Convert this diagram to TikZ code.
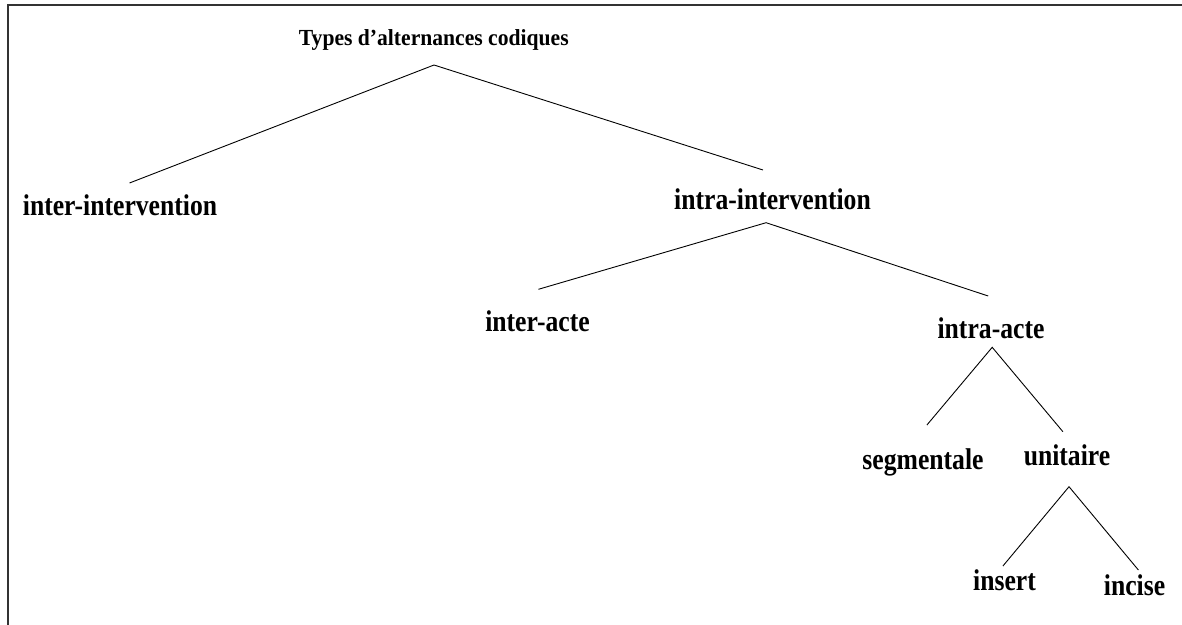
\documentclass[tikz,border=0pt]{standalone}
\usepackage{fontspec}
\newfontfamily\labfont{Liberation Serif}[FakeStretch=0.855]
\newfontfamily\titfont{Liberation Serif}[FakeStretch=0.94]
\begin{document}
\begin{tikzpicture}[x=1pt,y=-1pt,
  lab/.style={font=\labfont\bfseries\fontsize{30}{33}\selectfont, anchor=base, inner sep=0pt},
  tit/.style={font=\titfont\bfseries\fontsize{23}{26}\selectfont, anchor=base, inner sep=0pt},
  branch/.style={draw=black, line width=0.9pt},
  frame/.style={draw=black!80, line width=2pt}]
\useasboundingbox (0,0) rectangle (1182,624);
% frame (only left and top edges visible)
\coordinate (fbl) at (8,625);
\coordinate (ftl) at (8,5);
\coordinate (ftr) at (1183,5);
\draw[frame] (fbl) -- (ftl) -- (ftr);
% labels
\node[tit] (title) at (433.8,45) {Types d’alternances codiques};
\node[lab] (interI) at (120,215.7) {inter-intervention};
\node[lab] (intraI) at (772.5,209) {intra-intervention};
\node[lab] (interA) at (537.5,331.7) {inter-acte};
\node[lab] (intraA) at (991,338) {intra-acte};
\node[lab] (seg) at (923,469.5) {segmentale};
\node[lab] (uni) at (1067,465) {unitaire};
\node[lab] (ins) at (1004.5,590) {insert};
\node[lab] (inc) at (1134.5,595) {incise};
% branch points
\coordinate (titleApex) at (434,65);
\coordinate (interIEnd) at (129.5,183);
\coordinate (intraIEnd) at (763,170);
\coordinate (intraIApex) at (766.1,222.7);
\coordinate (interAEnd) at (538.4,289.3);
\coordinate (intraAEnd) at (988.2,296);
\coordinate (intraAApex) at (992.2,347.3);
\coordinate (segEnd) at (926.9,425);
\coordinate (uniEnd) at (1062.9,431.7);
\coordinate (uniApex) at (1069,486.7);
\coordinate (insEnd) at (1002.9,566);
\coordinate (incEnd) at (1138.4,570);
% branches
\draw[branch] (interIEnd) -- (titleApex) -- (intraIEnd);
\draw[branch] (interAEnd) -- (intraIApex) -- (intraAEnd);
\draw[branch] (segEnd) -- (intraAApex) -- (uniEnd);
\draw[branch] (insEnd) -- (uniApex) -- (incEnd);
\end{tikzpicture}
\end{document}
